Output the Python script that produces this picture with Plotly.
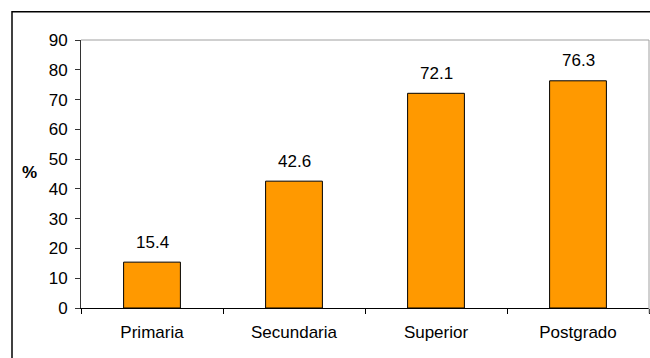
import plotly.graph_objects as go

# Education level categories and share (%) for each
categories = ["Primaria", "Secundaria", "Superior", "Postgrado"]
values = [15.4, 42.6, 72.1, 76.3]
value_labels = ["15.4", "42.6", "72.1", "76.3"]
y_ticks = [0, 10, 20, 30, 40, 50, 60, 70, 80, 90]

FONT = "Liberation Sans, Arial, sans-serif"
W, H = 650, 358
L, R, T, B = 81, 1, 40, 50
pw, ph = W - L - R, H - T - B


def px_to_paper_x(px):
    return (px - L) / pw


def px_to_paper_y(py):
    return (H - B - py) / ph


fig = go.Figure(
    go.Bar(
        x=categories,
        y=values,
        width=0.4,
        marker=dict(color="#FF9900", line=dict(color="#000000", width=1)),
        hoverinfo="skip",
    )
)

# Value labels above each bar
for cat, val, lab in zip(categories, values, value_labels):
    fig.add_annotation(
        x=cat, y=val, text=lab, showarrow=False,
        xanchor="center", yanchor="middle", yshift=20,
        font=dict(family=FONT, size=17, color="#000000"),
    )

# Axis title
fig.add_annotation(
    x=px_to_paper_x(29), y=px_to_paper_y(172), xref="paper", yref="paper",
    text="<b>%</b>", showarrow=False, xanchor="center", yanchor="middle",
    font=dict(family=FONT, size=17, color="#000000"),
)

shapes = [
    # plot area frame (top and right)
    dict(type="line", xref="paper", yref="paper", x0=0, x1=1, y0=1, y1=1,
         line=dict(color="#A0A0A0", width=1)),
    dict(type="line", xref="paper", yref="paper", x0=1, x1=1, y0=-0.02, y1=1,
         line=dict(color="#A0A0A0", width=1)),
    # chart frame (top and left)
    dict(type="line", xref="paper", yref="paper",
         x0=px_to_paper_x(12), x1=px_to_paper_x(700),
         y0=px_to_paper_y(11.75), y1=px_to_paper_y(11.75),
         line=dict(color="#000000", width=1.5)),
    dict(type="line", xref="paper", yref="paper",
         x0=px_to_paper_x(12), x1=px_to_paper_x(12),
         y0=px_to_paper_y(11), y1=px_to_paper_y(400),
         line=dict(color="#000000", width=1.5)),
]

fig.update_layout(
    width=W, height=H,
    margin=dict(l=L, r=R, t=T, b=B, pad=0),
    paper_bgcolor="#FFFFFF", plot_bgcolor="#FFFFFF",
    showlegend=False,
    font=dict(family=FONT, size=17, color="#000000"),
    shapes=shapes,
    bargap=0.6,
)

fig.update_xaxes(
    showgrid=False, zeroline=False,
    showline=True, linecolor="#000000", linewidth=1,
    ticks="outside", tickson="boundaries", ticklen=5, tickcolor="#000000",
    ticklabelstandoff=9,
    tickfont=dict(family=FONT, size=17, color="#000000"),
)
fig.update_yaxes(
    range=[0, 90], tickvals=y_ticks,
    showgrid=False, zeroline=False,
    showline=True, linecolor="#333333", linewidth=1,
    ticks="outside", ticklen=5, tickcolor="#333333",
    ticklabelstandoff=4,
    tickfont=dict(family=FONT, size=17, color="#000000"),
)

fig.write_html("out.html")
